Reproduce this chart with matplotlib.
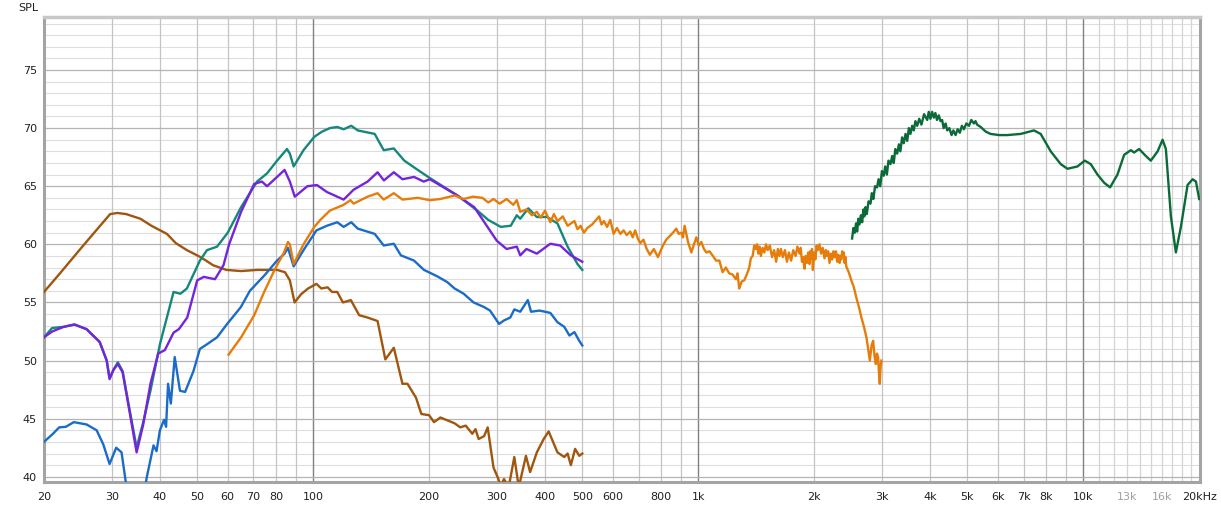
import matplotlib.pyplot as plt

brown_f = [20, 22, 25, 27, 29.7, 31, 32.7, 35.6, 38, 41.7, 44, 47, 51, 55, 59.5, 65, 71.5, 80.6, 84.5,
           87, 89.5, 93, 97, 102, 105, 109, 112, 115.5, 119.5, 125.3, 131.7, 138.5, 147, 154, 162,
           170.6, 175.8, 185, 191, 200, 206, 214, 233, 241, 249, 259, 264, 269, 278, 284, 294, 302,
           307, 313, 322, 333, 342, 357, 366, 381, 397, 409, 431, 449, 458, 467, 479, 491, 500]
brown_db = [55.9, 57.5, 59.7, 61.0, 62.6, 62.7, 62.6, 62.2, 61.6, 60.9, 60.1, 59.5, 58.9, 58.2, 57.8,
            57.7, 57.8, 57.8, 57.6, 56.9, 55.0, 55.7, 56.2, 56.6, 56.2, 56.3, 55.9, 55.9, 55.0, 55.2,
            53.9, 53.7, 53.4, 50.1, 51.1, 48.0, 48.0, 46.8, 45.4, 45.3, 44.7, 45.1, 44.6, 44.25, 44.4,
            43.7, 44.1, 43.25, 43.5, 44.25, 40.8, 39.9, 39.2, 39.8, 39.1, 41.7, 39.1, 41.8, 40.4, 42.1,
            43.25, 43.9, 42.1, 41.7, 42.0, 41.0, 42.4, 41.8, 42.0]

teal_f = [20, 21, 22.5, 24, 25.8, 27.9, 29.1, 29.6, 30.3, 31.1, 32, 33.4, 34.8, 36.2, 37.8, 40, 41.7,
          43.4, 45.2, 47, 50.8, 53, 56.3, 60, 65, 71.5, 75.9, 80.6, 85.5, 87, 89, 94.4, 100.7, 105.5,
          110.5, 115.5, 120, 125.6, 130.6, 144.5, 152.5, 162, 172.5, 187, 201, 237, 267, 285, 307,
          326, 338, 345, 362, 381, 405, 431, 458, 486, 500]
teal_db = [52.0, 52.8, 52.9, 53.1, 52.7, 51.6, 50.0, 48.5, 49.2, 49.85, 49.1, 45.7, 42.5, 44.7, 47.4,
           51.4, 53.7, 55.9, 55.75, 56.2, 58.6, 59.5, 59.8, 61.0, 63.2, 65.4, 66.1, 67.2, 68.2, 67.8,
           66.7, 68.1, 69.25, 69.7, 70.0, 70.1, 69.9, 70.2, 69.8, 69.5, 68.1, 68.25, 67.2, 66.4, 65.7,
           64.2, 62.9, 62.1, 61.5, 61.6, 62.5, 62.2, 63.1, 62.35, 62.35, 61.8, 59.8, 58.3, 57.8]

purple_f = [20, 21, 22.5, 24, 25.8, 27.9, 29.1, 29.6, 30.3, 31.1, 32, 33.4, 34.8, 36.2, 37.8, 39.6,
            41.2, 43.4, 44.8, 47.1, 50, 52, 55.6, 58.5, 60.5, 65, 70.3, 73.6, 75.9, 80, 84.3, 87,
            89.6, 96.6, 102.3, 108.6, 120, 127.4, 138.5, 147, 152.7, 162, 170.6, 182.8, 193.7, 201,
            237, 262, 300, 318, 338, 345, 358, 381, 413, 438, 467, 500]
purple_db = [52.0, 52.5, 52.9, 53.1, 52.7, 51.6, 50.0, 48.4, 49.2, 49.7, 49.0, 45.5, 42.1, 44.5, 48.0,
             50.6, 50.9, 52.4, 52.7, 53.7, 56.9, 57.2, 57.0, 58.2, 60.0, 62.8, 65.2, 65.4, 65.0, 65.7,
             66.4, 65.4, 64.1, 65.0, 65.1, 64.5, 63.85, 64.7, 65.4, 66.2, 65.5, 66.2, 65.6, 65.8, 65.4,
             65.6, 64.2, 63.2, 60.3, 59.6, 59.8, 59.05, 59.6, 59.2, 60.05, 59.9, 59.05, 58.5]

blue_f = [20, 21.1, 21.9, 22.8, 23.9, 25.8, 27.4, 28.5, 29.6, 30.8, 31.8, 32.6, 33.5, 35.5, 37, 38.5,
          39.2, 40, 41, 41.5, 42, 42.7, 43.7, 45.1, 46.5, 48.9, 50.8, 53, 56.3, 59.8, 64.9, 68.5, 74.6,
          80.6, 84.3, 86, 89, 94.4, 102, 108.6, 115.5, 120, 125.6, 130.6, 144.5, 152.5, 162, 169, 182.8,
          194, 210, 223, 233, 246, 261, 278, 288, 304, 313, 325, 333, 345, 361, 368, 387, 413, 431,
          449, 463, 477, 491, 500]
blue_db = [43.0, 43.7, 44.25, 44.3, 44.7, 44.5, 44.0, 42.8, 41.1, 42.5, 42.1, 39.6, 37.5, 36.5, 40.0,
           42.7, 42.2, 44.0, 44.9, 44.3, 48.0, 46.3, 50.3, 47.4, 47.3, 49.1, 51.0, 51.4, 52.0, 53.15,
           54.6, 56.0, 57.3, 58.6, 59.2, 59.7, 58.1, 59.5, 61.2, 61.6, 61.9, 61.5, 61.9, 61.35, 60.9,
           59.9, 60.05, 59.05, 58.6, 57.8, 57.25, 56.75, 56.2, 55.75, 55.0, 54.6, 54.3, 53.15, 53.45,
           53.7, 54.4, 54.2, 55.2, 54.2, 54.3, 54.1, 53.3, 52.9, 52.15, 52.45, 51.7, 51.3]

orange_f = [60.3, 65, 70.3, 74.6, 79.4, 84, 86, 87, 89, 94.4, 100.7, 104.4, 110.5, 120, 125, 127.4,
            138.5, 147, 152.5, 162, 170.6, 187, 201, 214, 233, 246, 260, 275, 285, 294, 305, 318, 331,
            338, 345, 358, 370, 381, 390, 400, 413, 422, 431, 445, 458, 477, 486, 495, 505, 515, 530,
            553, 561, 569, 580, 591, 603, 615, 628, 640, 652, 666, 676, 686, 697, 707, 721, 735, 749,
            767, 786, 798, 810, 826, 843, 860, 877, 890, 904, 913, 922, 941, 960, 975, 989, 1004, 1019,
            1035, 1050, 1070, 1092, 1113, 1135, 1157, 1180, 1204, 1228, 1253, 1265, 1278, 1297, 1317,
            1337, 1357, 1370, 1385, 1398, 1412, 1422, 1433, 1444, 1455, 1470, 1485, 1500, 1515, 1535,
            1555, 1575, 1594, 1610, 1625, 1640, 1658, 1680, 1700, 1720, 1743, 1765, 1790, 1810, 1833,
            1846, 1860, 1874, 1888, 1900, 1915, 1930, 1946, 1955, 1965, 1975, 1985, 2000, 2015, 2030,
            2045, 2065, 2085, 2105, 2128, 2145, 2160, 2175, 2193, 2210, 2227, 2245, 2261, 2280, 2295,
            2312, 2330, 2342, 2353, 2365, 2376, 2388, 2400, 2412, 2424, 2460, 2499, 2537, 2575, 2615,
            2654, 2695, 2735, 2763, 2791, 2820, 2847, 2870, 2893, 2912, 2932, 2947, 2962, 2976, 2990]
orange_db = [50.5, 52.0, 53.9, 55.9, 57.8, 59.3, 60.2, 60.0, 58.3, 60.0, 61.5, 62.1, 62.9, 63.4, 63.8,
             63.5, 64.1, 64.4, 63.85, 64.4, 63.85, 64.0, 63.8, 63.9, 64.2, 63.9, 64.1, 64.0, 63.6, 63.9,
             63.5, 63.9, 63.4, 63.8, 62.8, 63.0, 62.5, 62.8, 62.3, 62.9, 61.9, 62.6, 62.0, 62.4, 61.6,
             62.0, 61.3, 61.6, 61.0, 61.4, 61.7, 62.4, 61.7, 62.0, 61.5, 62.1, 60.9, 61.4, 60.9, 61.2,
             60.8, 61.1, 60.6, 61.2, 60.5, 60.1, 60.4, 59.6, 59.1, 59.6, 58.9, 59.4, 59.9, 60.4, 60.7,
             61.0, 61.35, 60.9, 61.0, 60.6, 61.6, 60.2, 59.3, 60.0, 60.6, 59.9, 60.2, 59.6, 59.3, 59.4,
             59.0, 58.6, 58.6, 57.6, 58.0, 57.5, 57.4, 57.0, 57.5, 56.2, 56.8, 56.9, 57.4,
             58.0, 58.8, 59.0, 59.9, 59.6, 60.0, 59.2, 59.8, 59.0, 59.7, 59.3, 60.0, 59.5, 59.9,
             58.9, 59.5, 58.5, 59.6, 59.0, 59.6, 58.9, 59.5, 58.5, 59.3, 58.6, 59.5, 59.0, 59.8, 59.2,
             59.7, 58.5, 58.9, 57.9, 59.0, 58.4, 59.3, 58.3, 59.4, 58.8, 59.6, 57.8, 59.3, 58.7, 59.9,
             59.5, 60.0, 59.2, 59.7, 58.8, 59.5, 59.0, 59.4, 58.4, 59.2, 58.7, 59.4, 58.9, 59.4, 58.5,
             59.1, 58.4, 59.0, 58.7, 59.4, 59.0, 59.3, 58.4, 58.9, 58.1, 57.6, 56.9, 56.3, 55.4, 54.6,
             53.7, 52.9, 52.0, 51.0, 50.0, 51.3, 51.7, 50.4, 49.7, 50.6, 50.3, 49.0, 48.0, 49.5, 50.0]

green_f = [2510, 2530, 2550, 2570, 2587, 2605, 2620, 2645, 2666, 2685, 2700, 2720, 2740, 2770, 2802,
           2825, 2850, 2880, 2915, 2940, 2970, 3000, 3032, 3060, 3090, 3120, 3157, 3190, 3220, 3250,
           3287, 3320, 3350, 3385, 3419, 3455, 3490, 3525, 3558, 3595, 3630, 3665, 3705, 3750, 3800,
           3860, 3934, 3970, 4010, 4050, 4092, 4130, 4170, 4215, 4259, 4300, 4340, 4390, 4434, 4490,
           4550, 4600, 4660, 4720, 4780, 4840, 4898, 4970, 5050, 5120, 5200, 5250, 5300, 5414, 5580,
           5746, 6050, 6353, 6880, 7448, 7753, 8232, 8740, 9097, 9659, 10090, 10460, 10890, 11330,
           11740, 12270, 12770, 13290, 13550, 13970, 14540, 14980, 15600, 16070, 16390, 16890, 17400,
           17930, 18660, 19230, 19620, 20000]
green_db = [60.5, 61.4, 61.0, 61.8, 61.1, 62.2, 61.7, 62.5, 61.9, 63.0, 62.4, 63.2, 62.6, 63.7, 63.5,
            64.4, 63.9, 65.0, 64.9, 65.6, 65.0, 66.3, 65.9, 66.7, 66.0, 67.2, 66.9, 67.6, 67.0, 68.2,
            67.8, 68.6, 68.0, 69.2, 68.7, 69.5, 68.9, 70.0, 69.5, 70.2, 69.8, 70.6, 70.2, 70.8, 70.3,
            71.2, 70.7, 71.4, 70.8, 71.4, 70.9, 71.3, 70.7, 71.1, 70.6, 70.7, 70.0, 70.4, 69.8, 70.0,
            69.4, 69.8, 69.4, 69.9, 69.6, 70.2, 69.9, 70.4, 70.2, 70.7, 70.4, 70.6, 70.3, 70.1, 69.7,
            69.5, 69.4, 69.4, 69.5, 69.8, 69.5, 68.0, 66.9, 66.5, 66.7, 67.2, 66.9, 66.0, 65.3,
            64.9, 66.0, 67.7, 68.1, 67.9, 68.2, 67.6, 67.2, 68.0, 69.0, 68.2, 62.4, 59.3,
            61.5, 65.1, 65.6, 65.4, 63.9]

# axis ticks
x_ticks = [20, 30, 40, 50, 60, 70, 80, 100, 200, 300, 400, 500, 600, 800, 1000, 2000, 3000,
           4000, 5000, 6000, 7000, 8000, 10000, 13000, 16000, 20000]
x_labels = ['20', '30', '40', '50', '60', '70', '80', '100', '200', '300', '400', '500', '600',
            '800', '1k', '2k', '3k', '4k', '5k', '6k', '7k', '8k', '10k', '13k', '16k', '20kHz']
y_ticks = [40, 45, 50, 55, 60, 65, 70, 75]

fig = plt.figure(figsize=(12.21, 5.07), dpi=100)
ax = fig.add_axes([44 / 1221, 1 - 482 / 507, (1200 - 44) / 1221, (482 - 17) / 507])
ax.set_xscale('log')
ax.set_xlim(20, 20100)
ax.set_ylim(39.55, 79.56)

# grid lines like REW
for dec in [10, 100, 1000]:
    for n in range(2, 10):
        f = n * dec
        if 20 < f < 20000:
            ax.axvline(f, color='#c4c4c4', lw=0.9, zorder=1)
for f in range(11000, 20000, 1000):
    ax.axvline(f, color='#d4d4d4', lw=0.9, zorder=1)
for f in [100, 1000, 10000]:
    ax.axvline(f, color='#808080', lw=1.0, zorder=1)
for v in range(40, 80):
    if v % 5 == 0:
        ax.axhline(v, color='#b4b4b4', lw=0.9, zorder=1)
    else:
        ax.axhline(v, color='#dedede', lw=0.8, zorder=0.9)

lw = 1.7
ax.plot(brown_f, brown_db, color='#a0560f', lw=lw, zorder=3)
ax.plot(teal_f, teal_db, color='#16877c', lw=lw, zorder=3)
ax.plot(purple_f, purple_db, color='#7425dc', lw=lw, zorder=3)
ax.plot(blue_f, blue_db, color='#1a6cc8', lw=lw, zorder=3)
ax.plot(orange_f, orange_db, color='#e67d0a', lw=lw, zorder=3)
ax.plot(green_f, green_db, color='#0b6b38', lw=lw, zorder=3)

ax.set_xticks(x_ticks)
ax.set_xticklabels(x_labels)
ax.xaxis.set_minor_locator(plt.NullLocator())
ax.set_yticks(y_ticks)
ax.set_yticklabels([str(v) for v in y_ticks])
ax.tick_params(axis='both', length=0, labelsize=8, colors='#202020')
ax.tick_params(axis='x', pad=7)
ax.tick_params(axis='y', pad=5)
for lab in ax.get_xticklabels():
    if lab.get_text() in ('13k', '16k'):
        lab.set_color('#a0a0a0')

for side in ['left', 'bottom', 'right']:
    ax.spines[side].set_color('#a4a4a4')
    ax.spines[side].set_linewidth(2.2)
ax.spines['top'].set_color('#c8c8c8')
ax.spines['top'].set_linewidth(2.5)

fig.text(38 / 1221, 1 - 8 / 507, 'SPL', ha='right', va='center', fontsize=8, color='#202020')

fig.savefig('out.png', dpi=100)
